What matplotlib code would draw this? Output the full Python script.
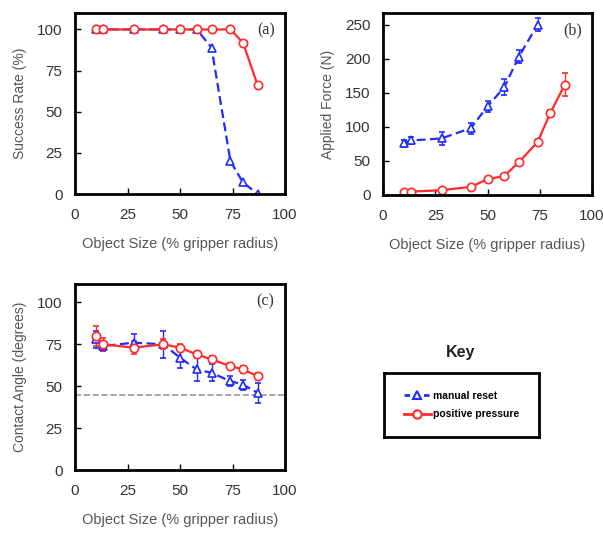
import matplotlib
matplotlib.use("Agg")
import matplotlib.pyplot as plt
from matplotlib.lines import Line2D

plt.rcParams['font.family'] = ['Liberation Sans', 'DejaVu Sans']

# object sizes (% gripper radius)
size_pp = [10, 13.5, 28, 42, 50, 58, 65, 74, 80, 87]
size_mr = [10, 13.5, 28, 42, 50, 58, 65, 74, 80, 87]
size_mr_force = [10, 13.5, 28, 42, 50, 58, 65, 74]

# (a) success rate
succ_pp = [100, 100, 100, 100, 100, 100, 100, 100, 92, 66]
succ_mr = [100, 100, 100, 100, 100, 100, 89, 20, 7, 0]

# (b) applied force
force_pp = [4, 5, 7, 12, 23, 28, 48, 78, 120, 162]
force_pp_err = [1, 1, 1, 2, 3, 3, 3, 4, 5, 17]
force_mr = [76, 80, 83, 98, 130, 158, 203, 250]
force_mr_err = [5, 5, 10, 8, 8, 12, 10, 10]

# (c) contact angle
angle_pp = [80, 75, 73, 75, 73, 69, 66, 62, 60, 56]
angle_pp_err = [6, 4, 4, 3, 2, 2, 2, 2, 2, 2]
angle_mr = [78, 74, 76, 75, 67, 60, 58, 53, 51, 46]
angle_mr_err = [5, 3, 5, 8, 6, 7, 5, 3, 3, 6]

BLUE = '#1f2bff'
RED = '#ff2a2a'
W, H = 603, 534

fig = plt.figure(figsize=(W / 100, H / 100), dpi=100)


def box(l, t, r, b):
    return [l / W, 1 - b / H, (r - l) / W, (b - t) / H]


def style(ax, ylim, yticks, ylabel, tag):
    ax.set_xlim(0, 100)
    ax.set_ylim(*ylim)
    ax.set_xticks([0, 25, 50, 75, 100])
    ax.set_yticks(yticks)
    ax.tick_params(direction='in', length=4, width=1, labelsize=11,
                   labelcolor='#333333')
    ax.tick_params(axis='x', pad=10)
    ax.tick_params(axis='y', pad=9)
    for s in ax.spines.values():
        s.set_linewidth(2)
    ax.set_xlabel('Object Size (% gripper radius)', fontsize=10.5, color='#555555', labelpad=11)
    ax.set_ylabel(ylabel, fontsize=10, color='#555555', labelpad=7)
    ax.text(0.95, 0.95, tag, transform=ax.transAxes, ha='right', va='top',
            fontsize=11.5, color='#333333', family='Liberation Serif')


mr_kw = dict(color=BLUE, ls=(0, (4, 2)), lw=1.6, marker='^', ms=6, mfc='white',
             mec=BLUE, mew=1.2, capsize=2, elinewidth=1)
pp_kw = dict(color=RED, ls='-', lw=1.6, marker='o', ms=6, mfc='white',
             mec=RED, mew=1.2, capsize=2, elinewidth=1)

# (a)
ax1 = fig.add_axes(box(75, 13, 285, 194))
ax1.errorbar(size_mr, succ_mr, **mr_kw)
ax1.errorbar(size_pp, succ_pp, **pp_kw)
style(ax1, (0, 110), [0, 25, 50, 75, 100], 'Success Rate (%)', '(a)')

# (b)
ax2 = fig.add_axes(box(383, 13, 592, 195))
ax2.errorbar(size_mr_force, force_mr, yerr=force_mr_err, **mr_kw)
ax2.errorbar(size_pp, force_pp, yerr=force_pp_err, **pp_kw)
style(ax2, (0, 267), [0, 50, 100, 150, 200, 250], 'Applied Force (N)', '(b)')

# (c)
ax3 = fig.add_axes(box(75, 284, 285, 470))
ax3.axhline(45, color='#999999', ls='--', lw=1.2)
ax3.errorbar(size_mr, angle_mr, yerr=angle_mr_err, **mr_kw)
ax3.errorbar(size_pp, angle_pp, yerr=angle_pp_err, **pp_kw)
style(ax3, (0, 111), [0, 25, 50, 75, 100], 'Contact Angle (degrees)', '(c)')

# key
fig.text(461 / W, 1 - 352 / H, 'Key', ha='center', va='center',
         fontsize=11.5, fontweight='bold', color='#222222')
kax = fig.add_axes(box(384, 373, 539, 437))
kax.set_xticks([])
kax.set_yticks([])
for s in kax.spines.values():
    s.set_linewidth(2)
handles = [
    Line2D([], [], color=BLUE, ls=(0, (2, 1.5)), lw=2, marker='^', ms=6, mfc='white', mec=BLUE, mew=1.5),
    Line2D([], [], color=RED, ls='-', lw=2, marker='o', ms=6, mfc='white', mec=RED, mew=1.5),
]
kax.legend(handles, ['manual reset', 'positive pressure'], loc='center',
           frameon=False, handlelength=2.6, handletextpad=0.2,
           labelspacing=0.8, prop={'weight': 'bold', 'size': 7.5})

fig.savefig('out.png', dpi=100)
